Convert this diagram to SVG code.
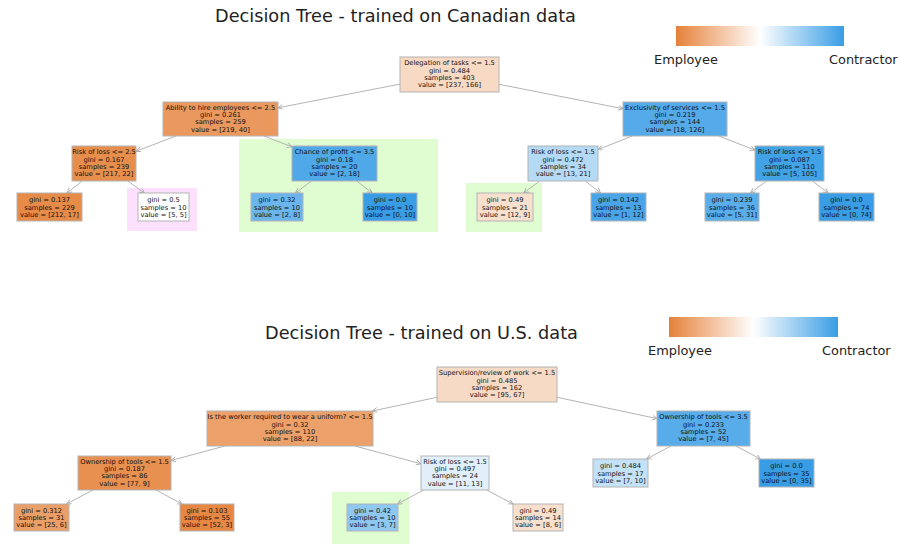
<svg xmlns="http://www.w3.org/2000/svg" width="901" height="544" viewBox="0 0 901 544">
<style>
.title{font-family:"DejaVu Sans","Liberation Sans",sans-serif;font-size:17.7px;fill:#222;text-anchor:middle}
.leg{font-family:"DejaVu Sans","Liberation Sans",sans-serif;font-size:12.9px;fill:#222}
.box{stroke:#b4b4b4;stroke-width:1}
.t{font-family:"DejaVu Sans","Liberation Sans",sans-serif;font-size:6.7px;fill:#111;text-anchor:middle}
.edge{stroke:#aaaaaa;stroke-width:0.9;fill:none;marker-end:url(#arr)}
.hlg{fill:#e0fdd2}
.hlp{fill:#fde0fd}
</style>
<defs>
<linearGradient id="grad" x1="0" y1="0" x2="1" y2="0">
<stop offset="0" stop-color="#e58139"/>
<stop offset="0.5" stop-color="#ffffff"/>
<stop offset="1" stop-color="#399de5"/>
</linearGradient>
<marker id="arr" markerUnits="userSpaceOnUse" markerWidth="7" markerHeight="6" refX="5" refY="2.5" orient="auto">
<path d="M0,0 L5,2.5 L0,5" fill="none" stroke="#aaaaaa" stroke-width="0.9"/>
</marker>
</defs>
<rect width="901" height="544" fill="#ffffff"/>

<!-- highlights -->
<g id="highlights">
<rect class="hlp" x="127" y="188" width="70" height="43"/>
<rect class="hlg" x="239" y="139" width="199" height="93"/>
<rect class="hlg" x="466" y="183" width="76" height="49"/>
<rect class="hlg" x="332" y="492" width="77" height="52"/>
</g>

<!-- titles and legends -->
<g id="top-title"><text class="title" x="395.5" y="22">Decision Tree - trained on Canadian data</text></g>
<g id="top-legend">
<rect x="676" y="26" width="168" height="20" fill="url(#grad)"/>
<text class="leg" x="654" y="64">Employee</text>
<text class="leg" x="829" y="64">Contractor</text>
</g>
<g id="bottom-title"><text class="title" x="421.5" y="339">Decision Tree - trained on U.S. data</text></g>
<g id="bottom-legend">
<rect x="669" y="317" width="169" height="20" fill="url(#grad)"/>
<text class="leg" x="648" y="355">Employee</text>
<text class="leg" x="822" y="355">Contractor</text>
</g>

<!-- connectors -->
<g id="connectors">
<line class="edge" x1="400" y1="84.1" x2="278" y2="107.8"/>
<line class="edge" x1="499" y1="84.3" x2="623" y2="108.7"/>
<line class="edge" x1="176" y1="136" x2="136" y2="151.3"/>
<line class="edge" x1="264" y1="136" x2="292" y2="146.9"/>
<line class="edge" x1="632.2" y1="136" x2="598" y2="149.6"/>
<line class="edge" x1="718.7" y1="136" x2="755" y2="150.1"/>
<line class="edge" x1="82.1" y1="181" x2="67" y2="193"/>
<line class="edge" x1="127.9" y1="181" x2="144.4" y2="193"/>
<line class="edge" x1="311.4" y1="181" x2="295.5" y2="193"/>
<line class="edge" x1="356.8" y1="181" x2="372.1" y2="193"/>
<line class="edge" x1="539.7" y1="181" x2="523.7" y2="193"/>
<line class="edge" x1="585.3" y1="181" x2="600.6" y2="193"/>
<line class="edge" x1="766.4" y1="181" x2="750.5" y2="193"/>
<line class="edge" x1="812.4" y1="181" x2="828.2" y2="193"/>

<line class="edge" x1="437" y1="397.3" x2="372.3" y2="411"/>
<line class="edge" x1="557" y1="397.3" x2="657" y2="418.6"/>
<line class="edge" x1="224.9" y1="446" x2="171" y2="460.5"/>
<line class="edge" x1="354.9" y1="446" x2="421" y2="463.8"/>
<line class="edge" x1="670.9" y1="446" x2="646.6" y2="459"/>
<line class="edge" x1="736.1" y1="446" x2="760.4" y2="459"/>
<line class="edge" x1="92.8" y1="490" x2="66.7" y2="504"/>
<line class="edge" x1="156" y1="490" x2="182" y2="504"/>
<line class="edge" x1="423.5" y1="490" x2="397.5" y2="504"/>
<line class="edge" x1="486.7" y1="490" x2="513" y2="504"/>
</g>

<!-- top tree nodes -->
<g id="t-root">
<rect class="box" x="400" y="57" width="99" height="35" fill="#f7d9c4"/>
<text class="t"><tspan x="449.5" y="65.3">Delegation of tasks &lt;= 1.5</tspan><tspan x="449.5" y="72.6">gini = 0.484</tspan><tspan x="449.5" y="79.9">samples = 403</tspan><tspan x="449.5" y="87.2">value = [237, 166]</tspan></text>
</g>
<g id="t-ability">
<rect class="box" x="163" y="102" width="115" height="34" fill="#ea985d"/>
<text class="t"><tspan x="220.5" y="109.8">Ability to hire employees &lt;= 2.5</tspan><tspan x="220.5" y="117.1">gini = 0.261</tspan><tspan x="220.5" y="124.4">samples = 259</tspan><tspan x="220.5" y="131.7">value = [219, 40]</tspan></text>
</g>
<g id="t-exclusivity">
<rect class="box" x="623" y="102" width="104" height="34" fill="#55abe9"/>
<text class="t"><tspan x="675" y="109.8">Exclusivity of services &lt;= 1.5</tspan><tspan x="675" y="117.1">gini = 0.219</tspan><tspan x="675" y="124.4">samples = 144</tspan><tspan x="675" y="131.7">value = [18, 126]</tspan></text>
</g>
<g id="t-risk25">
<rect class="box" x="72" y="146" width="64" height="35" fill="#e88e4d"/>
<text class="t"><tspan x="104" y="154.3">Risk of loss &lt;= 2.5</tspan><tspan x="104" y="161.6">gini = 0.167</tspan><tspan x="104" y="168.9">samples = 239</tspan><tspan x="104" y="176.2">value = [217, 22]</tspan></text>
</g>
<g id="t-chance">
<rect class="box" x="292" y="146" width="85" height="35" fill="#4fa8e8"/>
<text class="t"><tspan x="334.5" y="154.3">Chance of profit &lt;= 3.5</tspan><tspan x="334.5" y="161.6">gini = 0.18</tspan><tspan x="334.5" y="168.9">samples = 20</tspan><tspan x="334.5" y="176.2">value = [2, 18]</tspan></text>
</g>
<g id="t-risk15a">
<rect class="box" x="528" y="146" width="70" height="35" fill="#b4daf5"/>
<text class="t"><tspan x="563" y="154.3">Risk of loss &lt;= 1.5</tspan><tspan x="563" y="161.6">gini = 0.472</tspan><tspan x="563" y="168.9">samples = 34</tspan><tspan x="563" y="176.2">value = [13, 21]</tspan></text>
</g>
<g id="t-risk15b">
<rect class="box" x="755" y="146" width="69" height="35" fill="#42a2e6"/>
<text class="t"><tspan x="789.5" y="154.3">Risk of loss &lt;= 1.5</tspan><tspan x="789.5" y="161.6">gini = 0.087</tspan><tspan x="789.5" y="168.9">samples = 110</tspan><tspan x="789.5" y="176.2">value = [5, 105]</tspan></text>
</g>
<g id="t-leaf1">
<rect class="box" x="17" y="193" width="65" height="28" fill="#e78b49"/>
<text class="t"><tspan x="49.5" y="202.3">gini = 0.137</tspan><tspan x="49.5" y="209.6">samples = 229</tspan><tspan x="49.5" y="216.9">value = [212, 17]</tspan></text>
</g>
<g id="t-leaf2">
<rect class="box" x="138" y="193" width="51" height="28" fill="#ffffff"/>
<text class="t"><tspan x="163.5" y="202.3">gini = 0.5</tspan><tspan x="163.5" y="209.6">samples = 10</tspan><tspan x="163.5" y="216.9">value = [5, 5]</tspan></text>
</g>
<g id="t-leaf3">
<rect class="box" x="251" y="193" width="52" height="28" fill="#6ab6ec"/>
<text class="t"><tspan x="277" y="202.3">gini = 0.32</tspan><tspan x="277" y="209.6">samples = 10</tspan><tspan x="277" y="216.9">value = [2, 8]</tspan></text>
</g>
<g id="t-leaf4">
<rect class="box" x="363" y="193" width="54" height="28" fill="#399de5"/>
<text class="t"><tspan x="390" y="202.3">gini = 0.0</tspan><tspan x="390" y="209.6">samples = 10</tspan><tspan x="390" y="216.9">value = [0, 10]</tspan></text>
</g>
<g id="t-leaf5">
<rect class="box" x="477" y="193" width="56" height="28" fill="#f8e0ce"/>
<text class="t"><tspan x="505" y="202.3">gini = 0.49</tspan><tspan x="505" y="209.6">samples = 21</tspan><tspan x="505" y="216.9">value = [12, 9]</tspan></text>
</g>
<g id="t-leaf6">
<rect class="box" x="591" y="193" width="55" height="28" fill="#49a5e7"/>
<text class="t"><tspan x="618.5" y="202.3">gini = 0.142</tspan><tspan x="618.5" y="209.6">samples = 13</tspan><tspan x="618.5" y="216.9">value = [1, 12]</tspan></text>
</g>
<g id="t-leaf7">
<rect class="box" x="705" y="193" width="54" height="28" fill="#59ade9"/>
<text class="t"><tspan x="732" y="202.3">gini = 0.239</tspan><tspan x="732" y="209.6">samples = 36</tspan><tspan x="732" y="216.9">value = [5, 31]</tspan></text>
</g>
<g id="t-leaf8">
<rect class="box" x="819" y="193" width="55" height="28" fill="#399de5"/>
<text class="t"><tspan x="846.5" y="202.3">gini = 0.0</tspan><tspan x="846.5" y="209.6">samples = 74</tspan><tspan x="846.5" y="216.9">value = [0, 74]</tspan></text>
</g>

<!-- bottom tree nodes -->
<g id="b-root">
<rect class="box" x="437" y="367" width="120" height="35" fill="#f7dac5"/>
<text class="t"><tspan x="497" y="375.3">Supervision/review of work &lt;= 1.5</tspan><tspan x="497" y="382.6">gini = 0.485</tspan><tspan x="497" y="389.9">samples = 162</tspan><tspan x="497" y="397.2">value = [95, 67]</tspan></text>
</g>
<g id="b-uniform">
<rect class="box" x="207" y="411" width="166" height="35" fill="#eca06a"/>
<text class="t"><tspan x="290" y="419.3">Is the worker required to wear a uniform? &lt;= 1.5</tspan><tspan x="290" y="426.6">gini = 0.32</tspan><tspan x="290" y="433.9">samples = 110</tspan><tspan x="290" y="441.2">value = [88, 22]</tspan></text>
</g>
<g id="b-own35">
<rect class="box" x="657" y="411" width="93" height="35" fill="#58ace9"/>
<text class="t"><tspan x="703.5" y="419.3">Ownership of tools &lt;= 3.5</tspan><tspan x="703.5" y="426.6">gini = 0.233</tspan><tspan x="703.5" y="433.9">samples = 52</tspan><tspan x="703.5" y="441.2">value = [7, 45]</tspan></text>
</g>
<g id="b-own15">
<rect class="box" x="78" y="456" width="93" height="34" fill="#e89050"/>
<text class="t"><tspan x="124.5" y="463.8">Ownership of tools &lt;= 1.5</tspan><tspan x="124.5" y="471.1">gini = 0.187</tspan><tspan x="124.5" y="478.4">samples = 86</tspan><tspan x="124.5" y="485.7">value = [77, 9]</tspan></text>
</g>
<g id="b-risk">
<rect class="box" x="421" y="456" width="68" height="34" fill="#e1effb"/>
<text class="t"><tspan x="455" y="463.8">Risk of loss &lt;= 1.5</tspan><tspan x="455" y="471.1">gini = 0.497</tspan><tspan x="455" y="478.4">samples = 24</tspan><tspan x="455" y="485.7">value = [11, 13]</tspan></text>
</g>
<g id="b-leaf-484">
<rect class="box" x="593" y="459" width="55" height="28" fill="#c4e2f7"/>
<text class="t"><tspan x="620.5" y="468.3">gini = 0.484</tspan><tspan x="620.5" y="475.6">samples = 17</tspan><tspan x="620.5" y="482.9">value = [7, 10]</tspan></text>
</g>
<g id="b-leaf-00">
<rect class="box" x="759" y="459" width="55" height="28" fill="#399de5"/>
<text class="t"><tspan x="786.5" y="468.3">gini = 0.0</tspan><tspan x="786.5" y="475.6">samples = 35</tspan><tspan x="786.5" y="482.9">value = [0, 35]</tspan></text>
</g>
<g id="b-leaf-312">
<rect class="box" x="14" y="504" width="55" height="27" fill="#eb9f68"/>
<text class="t"><tspan x="41.5" y="512.8">gini = 0.312</tspan><tspan x="41.5" y="520.1">samples = 31</tspan><tspan x="41.5" y="527.4">value = [25, 6]</tspan></text>
</g>
<g id="b-leaf-103">
<rect class="box" x="180" y="504" width="54" height="27" fill="#e68844"/>
<text class="t"><tspan x="207" y="512.8">gini = 0.103</tspan><tspan x="207" y="520.1">samples = 55</tspan><tspan x="207" y="527.4">value = [52, 3]</tspan></text>
</g>
<g id="b-leaf-42">
<rect class="box" x="347" y="504" width="51" height="27" fill="#8ec7f0"/>
<text class="t"><tspan x="372.5" y="512.8">gini = 0.42</tspan><tspan x="372.5" y="520.1">samples = 10</tspan><tspan x="372.5" y="527.4">value = [3, 7]</tspan></text>
</g>
<g id="b-leaf-49">
<rect class="box" x="513" y="504" width="50" height="27" fill="#f8e0ce"/>
<text class="t"><tspan x="538" y="512.8">gini = 0.49</tspan><tspan x="538" y="520.1">samples = 14</tspan><tspan x="538" y="527.4">value = [8, 6]</tspan></text>
</g>
</svg>
